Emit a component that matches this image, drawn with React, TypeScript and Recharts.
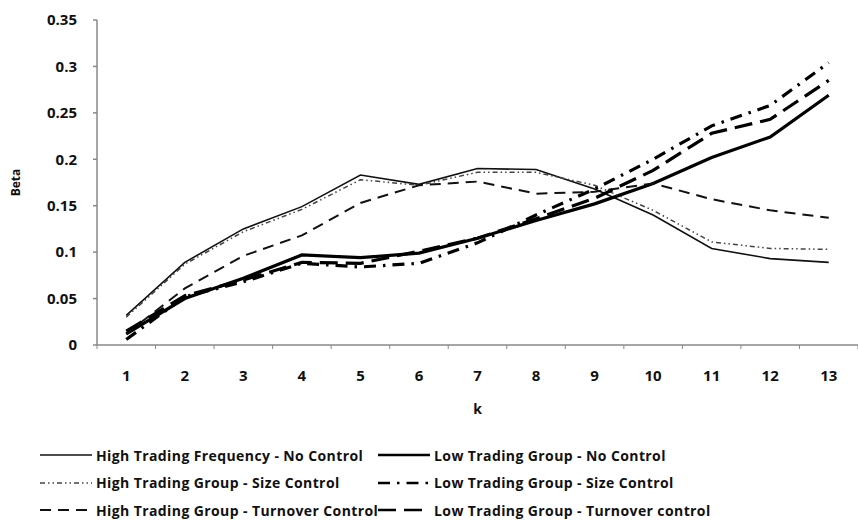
import React from 'react';
import { LineChart, Line, XAxis, YAxis } from 'recharts';

const kValues = ['1', '2', '3', '4', '5', '6', '7', '8', '9', '10', '11', '12', '13'];
const yTicks = [0, 0.05, 0.1, 0.15, 0.2, 0.25, 0.3, 0.35];

const highNoControl = [0.032, 0.089, 0.125, 0.149, 0.183, 0.173, 0.19, 0.189, 0.168, 0.14, 0.104, 0.093, 0.089];
const lowNoControl = [0.012, 0.05, 0.072, 0.097, 0.094, 0.099, 0.115, 0.134, 0.152, 0.174, 0.202, 0.224, 0.269];
const highSize = [0.03, 0.087, 0.122, 0.146, 0.178, 0.172, 0.186, 0.186, 0.172, 0.145, 0.111, 0.104, 0.103];
const lowSize = [0.006, 0.052, 0.068, 0.088, 0.084, 0.088, 0.11, 0.14, 0.168, 0.2, 0.236, 0.258, 0.304];
const highTurnover = [0.012, 0.061, 0.096, 0.118, 0.153, 0.172, 0.176, 0.163, 0.165, 0.174, 0.157, 0.145, 0.137];
const lowTurnover = [0.015, 0.053, 0.07, 0.089, 0.088, 0.101, 0.115, 0.136, 0.158, 0.188, 0.228, 0.243, 0.285];

const data = kValues.map((k, i) => ({
  k,
  highNoControl: highNoControl[i],
  lowNoControl: lowNoControl[i],
  highSize: highSize[i],
  lowSize: lowSize[i],
  highTurnover: highTurnover[i],
  lowTurnover: lowTurnover[i],
}));

const series = [
  { key: 'highNoControl', name: 'High Trading Frequency - No Control', width: 1.6, dash: undefined, color: '#111' },
  { key: 'lowNoControl', name: 'Low Trading Group - No Control', width: 3.2, dash: undefined, color: '#000' },
  { key: 'highSize', name: 'High Trading Group - Size Control', width: 1.5, dash: '5 3 1.5 3 1.5 3', color: '#444' },
  { key: 'lowSize', name: 'Low Trading Group - Size Control', width: 3.2, dash: '12 7 2.5 7', color: '#000' },
  { key: 'highTurnover', name: 'High Trading Group - Turnover Control', width: 2, dash: '11 7', color: '#111' },
  { key: 'lowTurnover', name: 'Low Trading Group - Turnover control', width: 3.2, dash: '18 8', color: '#000' },
];

const font = '"Open Sans", sans-serif';
const band = 761 / 13;

const XTick = ({ x, y, payload, index }: any) => (
  <g>
    <line x1={x - band / 2} x2={x - band / 2} y1={y} y2={y + 4} stroke="#888" strokeWidth={1} />
    {index === kValues.length - 1 && (
      <line x1={x + band / 2} x2={x + band / 2} y1={y} y2={y + 4} stroke="#888" strokeWidth={1} />
    )}
    <text x={x} y={y + 30} textAnchor="middle" dominantBaseline="central"
      style={{ fontFamily: font, fontWeight: 700, fontSize: 15, fill: '#111' }}>
      {payload.value}
    </text>
  </g>
);

const legendRows = [
  [series[0], series[1]],
  [series[2], series[3]],
  [series[4], series[5]],
];

export default function App() {
  return (
    <div style={{ position: 'absolute', left: 0, top: 0, width: 858, height: 524, background: '#fff', overflow: 'hidden' }}>
      <LineChart width={858} height={524} data={data} margin={{ top: 20, right: 0, bottom: 104, left: 0 }}>
        <XAxis
          dataKey="k"
          height={75}
          padding={{ left: band / 2, right: band / 2 }}
          stroke="#888"
          strokeWidth={1.5}
          tickSize={0}
          tickMargin={0}
          tick={<XTick />}
          interval={0}
          label={{
            content: ({ viewBox }: any) => (
              <text x={viewBox.x + viewBox.width / 2} y={viewBox.y + 63} textAnchor="middle" dominantBaseline="central"
                style={{ fontFamily: font, fontWeight: 700, fontSize: 14, fill: '#111' }}>k</text>
            ),
          }}
        />
        <YAxis
          width={97}
          domain={[0, 0.35]}
          ticks={yTicks}
          interval={0}
          stroke="#888"
          strokeWidth={1.5}
          tickSize={4}
          tickMargin={16}
          tick={{ fontFamily: font, fontWeight: 700, fontSize: 15, fill: '#111' }}
          label={{
            content: ({ viewBox }: any) => {
              const cx = viewBox.x + 15;
              const cy = viewBox.y + viewBox.height / 2;
              return (
                <text x={cx} y={cy} transform={`rotate(-90, ${cx}, ${cy})`} textAnchor="middle" dominantBaseline="central"
                  style={{ fontFamily: font, fontWeight: 700, fontSize: 12, fill: '#111' }}>Beta</text>
              );
            },
          }}
        />
        {series.map((s) => (
          <Line
            key={s.key}
            dataKey={s.key}
            name={s.name}
            type="linear"
            stroke={s.color}
            strokeWidth={s.width}
            strokeDasharray={s.dash}
            dot={false}
            activeDot={false}
            isAnimationActive={false}
          />
        ))}
      </LineChart>
      {legendRows.map((row, r) => (
        <div key={r}>
          {row.map((s, c) => (
            <div key={s.key} style={{
              position: 'absolute', left: c === 0 ? 40 : 378, top: 455 + r * 27.5 - 10, height: 20,
              display: 'flex', alignItems: 'center', fontFamily: font, fontWeight: 700, fontSize: 14,
              letterSpacing: 0.4, color: '#111', whiteSpace: 'nowrap',
            }}>
              <svg width={52} height={20} style={{ marginRight: 4 }}>
                <line x1={0} x2={52} y1={10} y2={10} stroke={s.color} strokeWidth={s.width > 3 ? 2.6 : s.width}
                  strokeDasharray={s.dash} />
              </svg>
              <span>{s.name}</span>
            </div>
          ))}
        </div>
      ))}
    </div>
  );
}
